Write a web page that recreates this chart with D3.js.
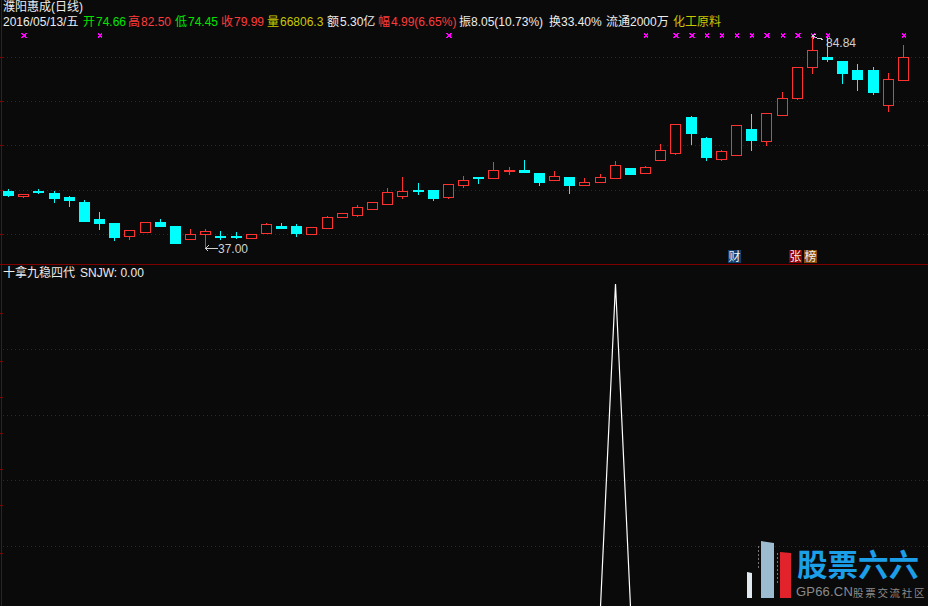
<!DOCTYPE html>
<html><head><meta charset="utf-8">
<script src="https://cdn.jsdelivr.net/npm/d3@7"></script>
<style>html,body{margin:0;padding:0;background:#0a0a0a;overflow:hidden}svg{display:block}
text{font-family:"Liberation Sans","Noto Sans CJK SC",sans-serif;font-size:12px}</style>
</head><body><svg id="c" width="928" height="606"></svg>
<script>
const opens=[49.80,48.75,49.80,49.35,48.45,47.33,43.51,42.61,39.76,40.66,42.84,41.94,39.02,40.21,39.69,39.69,39.31,40.44,41.94,41.94,40.21,41.56,44.03,44.48,45.83,46.95,48.75,49.96,50.03,48.52,51.22,52.88,52.79,54.34,54.45,53.84,52.34,52.95,51.15,51.89,52.79,54.97,53.91,56.83,58.40,66.42,61.70,57.06,57.95,63.73,61.10,66.94,70.76,77.72,79.90,79.00,76.98,76.98,69.12,74.66];
const highs=[50.25,49.13,50.18,49.73,48.68,47.78,45.09,42.61,40.97,42.77,43.51,41.94,41.27,41.27,40.82,40.59,40.08,42.68,42.61,42.39,41.65,44.19,44.79,46.66,47.26,50.48,52.95,51.60,50.03,51.31,53.17,52.88,56.31,55.19,56.76,53.84,54.29,52.95,52.72,53.62,56.54,54.97,55.42,60.36,64.78,66.65,61.93,59.01,64.56,67.10,67.25,72.04,77.58,84.84,84.32,79.00,78.33,77.65,76.30,82.50];
const lows=[48.52,48.30,49.13,47.11,46.28,43.06,41.04,38.57,38.80,40.66,41.94,37.90,38.80,37.00,38.80,39.02,39.09,40.44,41.27,39.47,40.21,41.56,44.03,43.96,45.53,46.66,48.00,48.90,47.56,48.00,50.48,51.37,52.50,53.40,53.84,50.92,52.34,49.13,51.15,51.89,52.79,53.40,53.91,56.54,57.89,60.13,56.54,56.54,57.95,58.79,59.91,66.71,70.24,76.08,78.78,73.83,72.26,71.36,67.54,74.45];
const closes=[48.90,49.13,49.64,48.23,47.78,43.06,42.61,39.47,40.97,42.77,41.94,38.12,40.08,40.75,39.54,39.47,40.08,42.39,41.49,40.37,41.65,43.89,44.79,46.14,47.26,49.51,49.73,49.85,48.23,51.31,52.20,52.77,54.45,54.45,54.07,51.82,53.10,51.15,51.76,52.88,55.57,53.62,55.12,58.94,64.78,62.83,57.44,58.72,64.56,61.26,67.25,70.62,77.58,81.40,79.52,76.30,74.96,72.04,74.96,79.99];
const signalBig=[1,29,44,45,50,52];
const signalSmall=[6,42,46,47,48,49,51,53,54,59];
const snjwValues=opens.map((_,i)=>i===40?100:0);
const priceGrid=[79.90,70.02,60.14,50.03,40.15];
const snjwGrid=[79.8,59.4,39.2,18.8];
const leftTicks=[57,101,145,190,234,313,361,397,433,469,505,553];
const headerTop="濮阳惠成(日线)";
const headerItems=[
 ["2016/05/13/五",3,"#ececec"],["开",83,"#00e600"],["74.66",96,"#00e600"],["高",128,"#ff3c3c"],["82.50",141,"#ff3c3c"],
 ["低",175,"#00e600"],["74.45",188,"#00e600"],["收",221,"#ff3c3c"],["79.99",234,"#ff3c3c"],["量",267,"#c8c800"],["66806.3",280,"#c8c800"],
 ["额",327,"#ececec"],["5.30亿",340,"#ececec"],["幅",378,"#ff3c3c"],["4.99(6.65%)",391,"#ff3c3c"],["振8.05(10.73%)",459,"#ececec"],
 ["换33.40%",549,"#ececec"],["流通2000万",606,"#ececec"],["化工原料",673,"#c8c800"]];
const badges=[["财",48,"#0f3f6e"],["张",52,"#8b0000"],["榜",53,"#8b4a08"]];

const svg=d3.select("#c");
const W=928,H=606;
svg.append("rect").attr("width",W).attr("height",H).attr("fill","#0a0a0a");
const idx=d3.range(opens.length);
const xs=d3.scalePoint().domain(idx).range([8,903]);
const X=i=>Math.round(xs(i));
const y=d3.scaleLinear().domain([37,84.84]).range([248,35]);
const y2=d3.scaleLinear().domain([0,100]).range([607,284]);
const snap=v=>Math.round(v)+0.5;

const gridColor="#6e0b0b";
const grid=svg.append("g").attr("stroke",gridColor).attr("stroke-dasharray","1 3").attr("shape-rendering","crispEdges");
priceGrid.forEach(p=>grid.append("line").attr("x1",3).attr("x2",W).attr("y1",snap(y(p))).attr("y2",snap(y(p))));
snjwGrid.forEach(p=>grid.append("line").attr("x1",3).attr("x2",W).attr("y1",snap(y2(p))).attr("y2",snap(y2(p))));

const axis=svg.append("g").attr("stroke","#800000").attr("shape-rendering","crispEdges");
axis.append("line").attr("x1",1.5).attr("x2",1.5).attr("y1",0).attr("y2",H);
axis.append("line").attr("x1",0).attr("x2",W).attr("y1",264.5).attr("y2",264.5);
leftTicks.forEach(t=>axis.append("line").attr("x1",0).attr("x2",3).attr("y1",t+.5).attr("y2",t+.5));

const RED="#ff3232",CY="#00ffff";
const cg=svg.append("g").attr("shape-rendering","crispEdges");
idx.forEach(i=>{
  const up=closes[i]>=opens[i],col=up?RED:CY,cx=X(i)+.5;
  cg.append("line").attr("x1",cx).attr("x2",cx).attr("y1",Math.round(y(highs[i]))).attr("y2",Math.round(y(lows[i]))).attr("stroke",col);
  const t=snap(y(Math.max(opens[i],closes[i]))),b=snap(y(Math.min(opens[i],closes[i])));
  cg.append("path").attr("d",`M${cx-5} ${t}H${cx+5}V${b}H${cx-5}Z`).attr("stroke",col).attr("fill",up?"#0a0a0a":CY);
});

const mark=(i,r)=>{
  const cx=X(i)+.5+0.5,cy=35.5;
  const g=svg.append("g").attr("stroke","#ff00ff").attr("shape-rendering","crispEdges");
  g.append("path").attr("d",`M${cx-r} ${cy-r}L${cx+r} ${cy+r}M${cx+r} ${cy-r}L${cx-r} ${cy+r}`).attr("stroke-width",1);
  g.append("rect").attr("x",cx-(r-1)).attr("y",cy-(r-1)).attr("width",2*(r-1)).attr("height",2*(r-1)).attr("fill","#ff00ff").attr("stroke","none");
};
signalBig.forEach(i=>mark(i,2.5));
signalSmall.forEach(i=>mark(i,2));

const ann="#d0d0d0";
function arrow(path){
  svg.append("path").attr("d",path).attr("fill","none").attr("stroke",ann).attr("shape-rendering","crispEdges");
}
const lx=X(13),ly=Math.round(y(37)),hx=X(53),hy=Math.round(y(84.84));
arrow(`M${lx+.5} ${ly+.5}H${lx+13}M${lx+.5} ${ly+.5}L${lx+3.5} ${ly-2.5}M${lx+.5} ${ly+.5}L${lx+3.5} ${ly+3.5}`);
svg.append("text").attr("x",lx+13).attr("y",ly+5).attr("fill",ann).text(d3.format(".2f")(37));
arrow(`M${hx+.5} ${hy+.5}L${hx+5} ${hy+3}L${hx+8} ${hy+3}L${hx+11} ${hy+5}M${hx+.5} ${hy+.5}L${hx+4} ${hy-1}M${hx+.5} ${hy+.5}L${hx+2} ${hy+4}`);
svg.append("text").attr("x",hx+14).attr("y",hy+12).attr("fill",ann).text(d3.format(".2f")(84.84));

svg.append("path").datum(snjwValues)
  .attr("d",d3.line().x((d,i)=>X(i)+.5).y(d=>y2(d)))
  .attr("fill","none").attr("stroke","#ffffff").attr("stroke-width",1.2);

svg.append("text").attr("x",3).attr("y",11).attr("fill","#ececec").text(headerTop);
headerItems.forEach(([t,x,c])=>svg.append("text").attr("x",x).attr("y",26).attr("fill",c).text(t));
svg.append("text").attr("x",3).attr("y",277).attr("fill","#ececec").text("十拿九稳四代");
svg.append("text").attr("x",80).attr("y",277).attr("fill","#ececec").text("SNJW: 0.00");

badges.forEach(([t,i,c])=>{
  const x=X(i)-8;
  svg.append("rect").attr("x",x).attr("y",250).attr("width",13).attr("height",13).attr("fill",c);
  svg.append("text").attr("x",x+6.5).attr("y",261).attr("text-anchor","middle").attr("fill","#f0f0f0").text(t);
});

const logo=svg.append("g");
logo.append("path").attr("d","M747 572L752 573V598H747Z").attr("fill","#dfe9ef");
logo.append("path").attr("d","M761 541L774 543V598H761Z").attr("fill","#9dbccf");
logo.append("path").attr("d","M780 552L791 553V598H780Z").attr("fill","#e3232b");
logo.append("path").attr("d","M758.5 546V570M777.5 553V585").attr("stroke","#777").attr("stroke-dasharray","2 2").attr("fill","none");
logo.append("text").attr("x",797).attr("y",576).attr("fill","#1b9fe8").style("font-size","30.5px").style("font-weight","700").style("font-family","'Noto Sans CJK SC'").text("股票六六");
logo.append("text").attr("x",796).attr("y",596).attr("fill","#8a8a8a").style("font-size","13px").style("letter-spacing","0.2px").text("GP66.CN");
logo.append("text").attr("x",853).attr("y",596.5).attr("fill","#8a8a8a").style("font-size","10.5px").style("font-family","'Noto Sans CJK SC'").style("letter-spacing","1.7px").text("股票交流社区");
</script></body></html>
